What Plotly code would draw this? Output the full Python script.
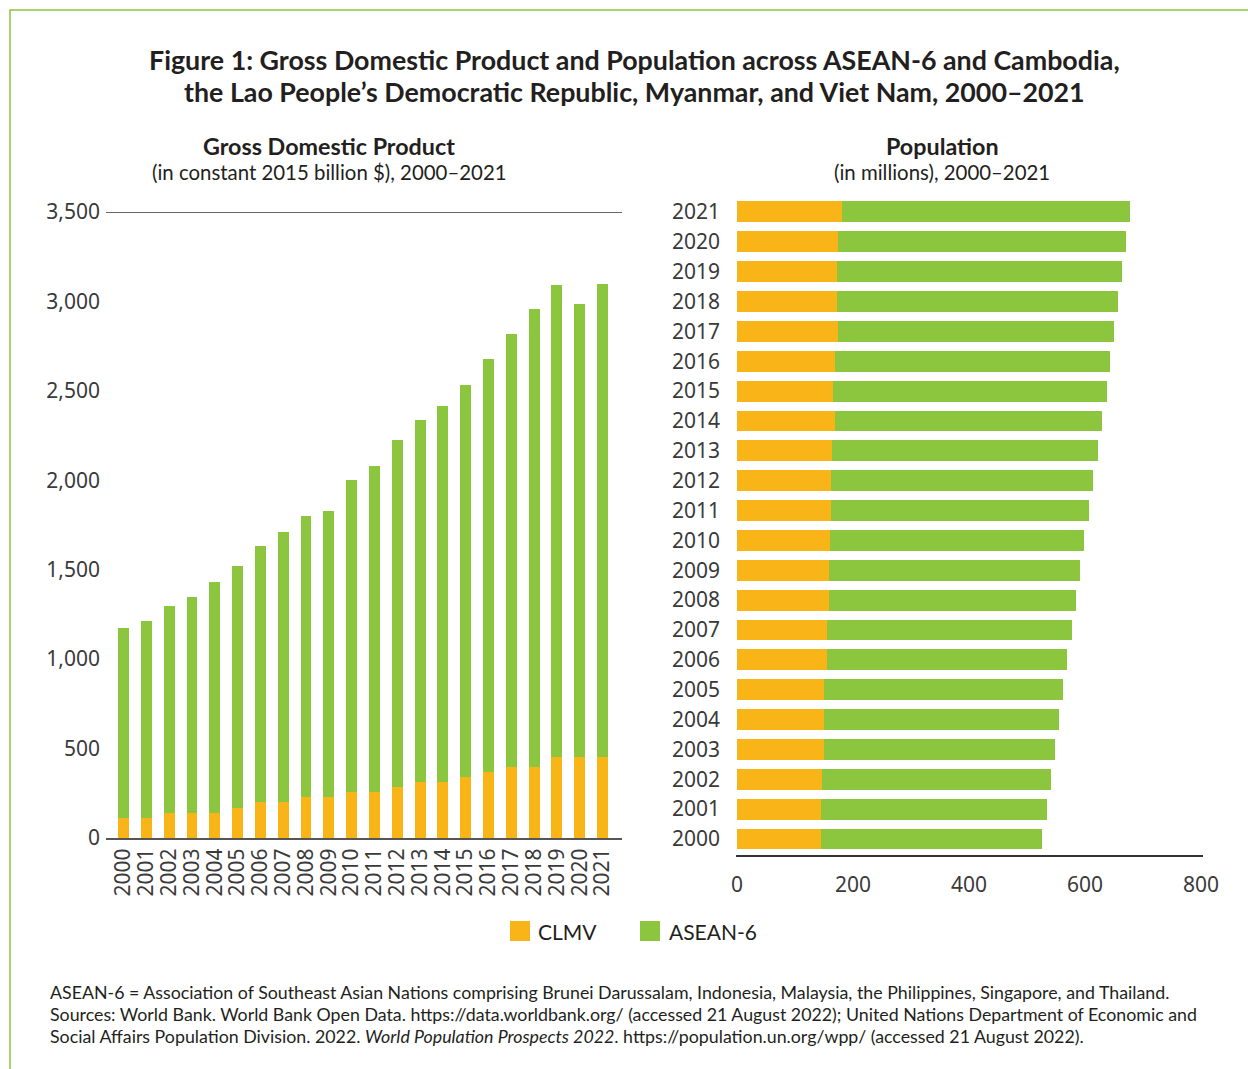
import plotly.graph_objects as go

# ---- data ----
years = [str(y) for y in range(2000, 2022)]

# GDP, constant 2015 billion $
gdp_clmv = [114, 114, 141, 141, 141, 170, 201, 201, 229, 229, 257,
            257, 285, 313, 313, 341, 369, 397, 397, 453, 453, 453]
gdp_asean6 = [1060, 1099, 1156, 1206, 1290, 1351, 1432, 1510, 1571, 1599, 1745,
              1823, 1940, 2024, 2102, 2192, 2309, 2421, 2561, 2639, 2533, 2644]

# Population, millions
pop_clmv = [145.2, 145.2, 147.1, 150.2, 150.2, 150.2, 155.7, 155.7, 158.8, 158.8, 160.6,
            162.5, 162.5, 164.3, 169.2, 165.5, 169.2, 174.2, 172.9, 172.9, 174.2, 181.5]
pop_asean6 = [381.0, 389.6, 394.4, 398.1, 404.9, 411.7, 413.5, 422.1, 425.8, 432.6, 437.6,
              444.3, 451.0, 457.9, 460.3, 472.7, 473.9, 475.6, 483.7, 491.1, 496.6, 496.1]

gdp_ticks = [0, 500, 1000, 1500, 2000, 2500, 3000, 3500]
gdp_ticktext = ["0", "500", "1,000", "1,500", "2,000", "2,500", "3,000", "3,500"]
pop_ticks = [0, 200, 400, 600, 800]

series_names = ["CLMV", "ASEAN-6"]
ORANGE = "#F9B418"
GREEN = "#8CC63F"
TEXT = "#231F20"
TICK = "#3A3A3A"

W, H = 1248, 1069


def px_x(x):
    return x / W


def px_y(y):
    return 1 - y / H


fig = go.Figure()

# GDP stacked columns
fig.add_trace(go.Bar(x=years, y=gdp_clmv, name=series_names[0], marker_color=ORANGE,
                     xaxis="x", yaxis="y", showlegend=False))
fig.add_trace(go.Bar(x=years, y=gdp_asean6, name=series_names[1], marker_color=GREEN,
                     xaxis="x", yaxis="y", showlegend=False))

# Population stacked bars
fig.add_trace(go.Bar(y=years, x=pop_clmv, name=series_names[0], orientation="h",
                     marker_color=ORANGE, xaxis="x2", yaxis="y2", showlegend=False,
                     width=0.7))
fig.add_trace(go.Bar(y=years, x=pop_asean6, name=series_names[1], orientation="h",
                     marker_color=GREEN, xaxis="x2", yaxis="y2", showlegend=False,
                     width=0.7))

fig.update_traces(marker_line_width=0)

tick_font = dict(family="Noto Sans", size=21, color=TICK)

fig.update_layout(
    width=W, height=H,
    autosize=False,
    margin=dict(l=0, r=0, t=0, b=0, pad=0, autoexpand=False),
    paper_bgcolor="white", plot_bgcolor="white",
    barmode="stack",
    showlegend=False,
    xaxis=dict(domain=[px_x(106), px_x(622)], type="category",
               range=[-0.77, 21.855], tickmode="array", tickvals=years,
               tickangle=-90, tickfont=tick_font, automargin=False,
               showgrid=False, showline=True, linecolor="#555555", linewidth=2,
               ticks="", ticklabelstandoff=0, anchor="y"),
    yaxis=dict(domain=[px_y(838), px_y(212)], range=[0, 3500],
               tickmode="array", tickvals=gdp_ticks, ticktext=gdp_ticktext,
               tickfont=tick_font, automargin=False,
               showgrid=False, zeroline=False, showline=False, ticks="",
               ticklabelstandoff=5, anchor="x"),
    xaxis2=dict(domain=[px_x(737), px_x(1201)], range=[0, 800],
                tickmode="array", tickvals=pop_ticks, tickfont=tick_font,
                automargin=False, showgrid=False,
                zeroline=False, showline=False, ticks="", ticklabelstandoff=14,
                anchor="y2"),
    yaxis2=dict(domain=[px_y(856), px_y(197)], type="category",
                range=[-0.57, 21.5], tickmode="array", tickvals=years,
                tickfont=tick_font, automargin=False, showgrid=False,
                showline=False, ticks="", ticklabelstandoff=16, anchor="x2"),
    bargap=0.52,
)

shapes = [
    # top rule of the GDP panel at 3,500
    dict(type="line", xref="x domain", yref="y", x0=0, x1=1, y0=3500, y1=3500,
         line=dict(color="#666666", width=2)),
    # baseline of the population panel
    dict(type="line", xref="paper", yref="y2 domain", x0=px_x(736), x1=px_x(1203),
         y0=0, y1=0, line=dict(color="#333333", width=2)),
    # green frame
    dict(type="rect", xref="paper", yref="paper", x0=px_x(10), x1=1.02,
         y0=-0.02, y1=px_y(10), line=dict(color=GREEN, width=1.5)),
    # legend swatches
    dict(type="rect", xref="paper", yref="paper", x0=px_x(510), x1=px_x(530),
         y0=px_y(941), y1=px_y(921), fillcolor=ORANGE, line_width=0),
    dict(type="rect", xref="paper", yref="paper", x0=px_x(640), x1=px_x(660),
         y0=px_y(941), y1=px_y(921), fillcolor=GREEN, line_width=0),
]
fig.update_layout(shapes=shapes)

ann = []


def text(x, y, s, size, bold=False, anchor="center", family="Lato", color=TEXT):
    ann.append(dict(xref="paper", yref="paper", x=px_x(x), y=px_y(y),
                    text=f"<b>{s}</b>" if bold else s, showarrow=False,
                    xanchor=anchor, yanchor="middle",
                    font=dict(family=family, size=size, color=color)))


text(634, 60, "Figure 1: Gross Domestic Product and Population across ASEAN-6 and Cambodia,", 26.8, True)
text(634, 92, "the Lao People\u2019s Democratic Republic, Myanmar, and Viet Nam, 2000\u20132021", 26.8, True)

text(329, 146, "Gross Domestic Product", 23.3, True)
text(329, 172, "(in constant 2015 billion $), 2000\u20132021", 20.4)
text(942, 146, "Population", 23.3, True)
text(942, 172, "(in millions), 2000\u20132021", 20.4)

text(536, 931, series_names[0], 21, anchor="left")
text(667, 931, series_names[1], 21, anchor="left")

text(48, 992, "ASEAN-6 = Association of Southeast Asian Nations comprising Brunei Darussalam, "
     "Indonesia, Malaysia, the Philippines, Singapore, and Thailand.", 17.8, anchor="left")
text(48, 1014, "Sources: World Bank. World Bank Open Data. https://data.worldbank.org/ "
     "(accessed 21 August 2022); United Nations Department of Economic and", 17.8, anchor="left")
text(48, 1036, "Social Affairs Population Division. 2022. <i>World Population Prospects 2022</i>. "
     "https://population.un.org/wpp/ (accessed 21 August 2022).", 17.8, anchor="left")

fig.update_layout(annotations=ann)

fig.write_html("out.html")
